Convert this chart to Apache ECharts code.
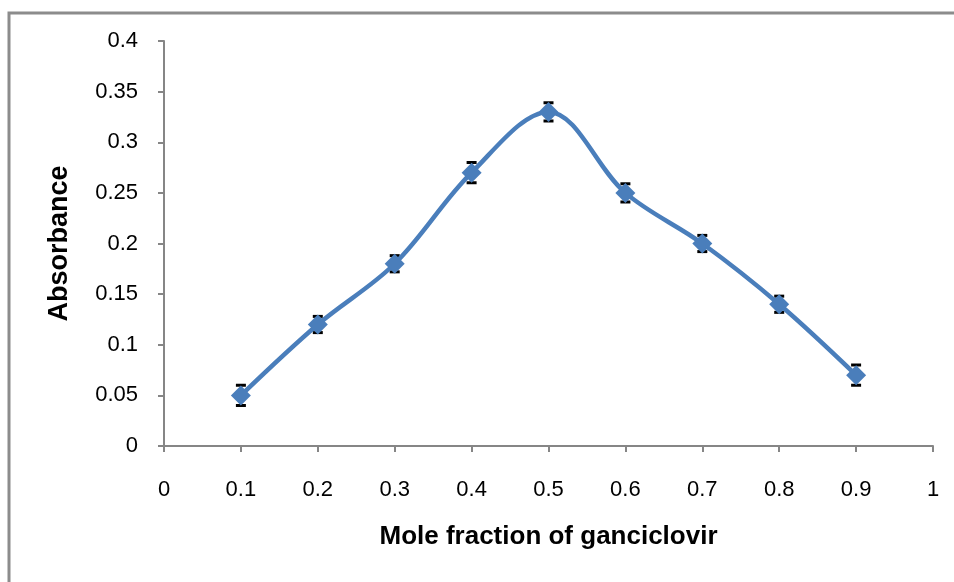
<!DOCTYPE html>
<html>
<head>
<meta charset="utf-8">
<script src="https://cdn.jsdelivr.net/npm/echarts@6/dist/echarts.min.js"></script>
<style>
  html, body { margin: 0; padding: 0; background: #fff; }
  #chart { width: 954px; height: 582px; }
</style>
</head>
<body>
<div id="chart"></div>
<script>
// mole fraction values (x) and measured absorbance (y)
var moleFraction = [0.1, 0.2, 0.3, 0.4, 0.5, 0.6, 0.7, 0.8, 0.9];
var absorbance = [0.05, 0.12, 0.18, 0.27, 0.33, 0.25, 0.2, 0.14, 0.07];
var errorBar = [0.01, 0.008, 0.008, 0.01, 0.009, 0.009, 0.008, 0.008, 0.01];

var linePoints = moleFraction.map(function (x, i) { return [x, absorbance[i]]; });
var errPoints = moleFraction.map(function (x, i) {
  return [x, absorbance[i] - errorBar[i], absorbance[i] + errorBar[i]];
});

var myChart = echarts.init(document.getElementById("chart"));
var font = "Liberation Sans, Arial, sans-serif";

var option = {
  animation: false,
  grid: { left: 164, right: 21, top: 41, bottom: 136 },
  graphic: [
    {
      type: "rect",
      shape: { x: 9, y: 13, width: 1000, height: 700 },
      style: { fill: "none", stroke: "#8c8c8c", lineWidth: 3 },
      silent: true
    }
  ],
  xAxis: {
    type: "value",
    min: 0,
    max: 1,
    interval: 0.1,
    name: "Mole fraction of ganciclovir",
    nameLocation: "middle",
    nameGap: 78,
    nameTextStyle: { fontFamily: font, fontSize: 26, fontWeight: "bold", color: "#000" },
    axisLine: { lineStyle: { color: "#868686", width: 2 } },
    axisTick: { show: true, length: 6, lineStyle: { color: "#868686", width: 2 } },
    axisLabel: { fontFamily: font, fontSize: 22, color: "#000", margin: 33 },
    splitLine: { show: false }
  },
  yAxis: {
    type: "value",
    min: 0,
    max: 0.4,
    interval: 0.05,
    name: "Absorbance",
    nameLocation: "middle",
    nameGap: 91,
    nameRotate: 90,
    nameTextStyle: { fontFamily: font, fontSize: 27, fontWeight: "bold", color: "#000" },
    axisLine: { show: true, lineStyle: { color: "#868686", width: 2 } },
    axisTick: { show: true, length: 6, lineStyle: { color: "#868686", width: 2 } },
    axisLabel: { fontFamily: font, fontSize: 22, color: "#000", margin: 26 },
    splitLine: { show: false }
  },
  series: [
    {
      type: "custom",
      data: errPoints,
      z: 1,
      renderItem: function (params, api) {
        var x = api.value(0);
        var lo = api.coord([x, api.value(1)]);
        var hi = api.coord([x, api.value(2)]);
        var half = 5;
        return {
          type: "group",
          children: [
            { type: "line", shape: { x1: lo[0], y1: lo[1], x2: hi[0], y2: hi[1] }, style: { stroke: "#000", lineWidth: 1.5 } },
            { type: "line", shape: { x1: lo[0] - half, y1: lo[1], x2: lo[0] + half, y2: lo[1] }, style: { stroke: "#000", lineWidth: 3 } },
            { type: "line", shape: { x1: hi[0] - half, y1: hi[1], x2: hi[0] + half, y2: hi[1] }, style: { stroke: "#000", lineWidth: 3 } }
          ]
        };
      }
    },
    {
      type: "line",
      data: linePoints,
      smooth: 0.35,
      symbol: "diamond",
      symbolSize: 20,
      lineStyle: { color: "#4a7ebb", width: 4.5 },
      itemStyle: { color: "#4a7ebb" },
      z: 2
    }
  ]
};

myChart.setOption(option);
</script>
</body>
</html>
